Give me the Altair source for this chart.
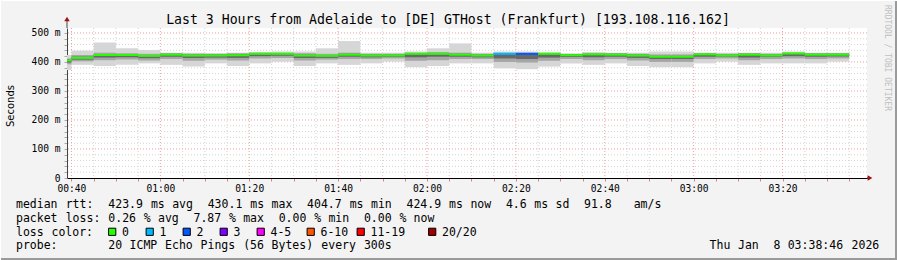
import re
import altair as alt
import pandas as pd

# ---------------- data ----------------
title_text = "Last 3 Hours from Adelaide to [DE] GTHost (Frankfurt) [193.108.116.162]"

# 5-minute bins, start minute after midnight (00:35 ... 03:30)
bin_start = [35 + 5 * i for i in range(36)]
bin_end = [s + 5 for s in bin_start]

median_ms = [405, 414, 424, 424, 421, 425, 422, 422, 423, 428, 428, 422,
             421, 425, 422, 422, 428, 428, 425, 422, 428, 428, 428, 423,
             426, 425, 422, 418, 418, 426, 422, 425, 422, 429, 425, 425]
smoke_hi = [424, 439, 467, 447, 441, 432, 432, 430, 432, 434, 436, 436,
            447, 472, 432, 432, 436, 447, 464, 432, 436, 436, 432, 428,
            434, 432, 432, 436, 436, 432, 432, 432, 432, 436, 432, 432]
smoke_lo = [372, 390, 386, 390, 395, 390, 384, 395, 386, 395, 401, 386,
            395, 390, 395, 401, 382, 386, 395, 395, 378, 375, 384, 395,
            390, 395, 386, 382, 382, 395, 401, 390, 395, 395, 395, 401]
mid_hi = [412, 424, 432, 430, 428, 430, 428, 428, 430, 432, 432, 430,
          428, 432, 428, 428, 432, 434, 432, 428, 432, 432, 432, 428,
          430, 430, 428, 426, 426, 430, 428, 430, 428, 432, 430, 430]
mid_lo = [392, 402, 406, 408, 405, 410, 404, 408, 405, 412, 414, 405,
          408, 410, 410, 412, 404, 406, 410, 410, 400, 398, 404, 410,
          406, 410, 405, 400, 400, 410, 412, 406, 410, 412, 410, 412]
dark_hi = [408, 418, 427, 426, 424, 428, 425, 425, 426, 430, 430, 425,
           424, 428, 425, 425, 430, 430, 428, 425, 430, 430, 430, 426,
           428, 428, 425, 421, 421, 428, 425, 428, 425, 431, 428, 428]
dark_lo = [398, 408, 415, 416, 413, 418, 414, 415, 414, 420, 421, 414,
           414, 418, 416, 417, 416, 418, 418, 416, 412, 410, 415, 417,
           416, 418, 414, 410, 410, 418, 418, 415, 417, 420, 418, 419]
bin_loss = ['0', '0', '0', '0', '0', '0', '0', '0', '0', '0', '0', '0',
            '0', '0', '0', '0', '0', '0', '0', '0', '1', '2', '0', '0',
            '0', '0', '0', '0', '0', '0', '0', '0', '0', '0', '0', '0']

loss_labels = ['0', '1', '2', '3', '4-5', '6-10', '11-19', '20/20']
loss_colors = ['#26ff00', '#00b8ff', '#0059ff', '#7e00ff', '#ff00ff',
               '#ff5500', '#ff0000', '#a00000']

x_tick_minutes = [40, 60, 80, 100, 120, 140, 160, 180, 200]
x_tick_labels = ['00:40', '01:00', '01:20', '01:40', '02:00', '02:20',
                 '02:40', '03:00', '03:20']
y_tick_values = [0, 100, 200, 300, 400, 500]
y_tick_labels = ['0', '100 m', '200 m', '300 m', '400 m', '500 m']

legend_lines = [
    "median rtt:  423.9 ms avg  430.1 ms max  404.7 ms min  424.9 ms now  4.6 ms sd  91.8   am/s",
    "packet loss: 0.26 % avg  7.87 % max  0.00 % min  0.00 % now",
    "loss color:",
    "probe:       20 ICMP Echo Pings (56 Bytes) every 300s",
]
date_text = "Thu Jan  8 03:38:46 2026"
watermark = "RRDTOOL / TOBI OETIKER"
y_title = "Seconds"

# ---------------- layout ----------------
W, H = 800, 150
LEFT, TOP = 67, 28
X_DOMAIN = [39, 219]
Y_DOMAIN = [0, 517]
MONO = "DejaVu Sans Mono"
CHAR = 7.1
xs = alt.Scale(domain=X_DOMAIN, nice=False, zero=False)
ys = alt.Scale(domain=Y_DOMAIN, nice=False)

x_label_expr = " : ".join(
    f"datum.value == {m} ? '{l}'" for m, l in zip(x_tick_minutes, x_tick_labels)) + " : ''"
y_label_expr = " : ".join(
    f"datum.value == {v} ? '{l}'" for v, l in zip(y_tick_values, y_tick_labels)) + " : ''"

X_AXIS = alt.Axis(
    values=list(range(40, 219, 5)), labelExpr=x_label_expr, title=None, grid=False,
    tickSize=3, tickColor='#e08080', domainColor='#000000', domainWidth=1,
    labelFont=MONO, labelFontSize=9.6, labelColor='#000000', labelPadding=2,
    labelFlush=False, labelOverlap=False, orient='bottom')
Y_AXIS = alt.Axis(
    values=list(range(0, 517, 20)), labelExpr=y_label_expr, title=None, grid=False,
    tickSize=3, tickColor='#aaaaaa', domainColor='#444444', domainWidth=1,
    labelFont=MONO, labelFontSize=9.6, labelColor='#000000', labelPadding=4,
    labelOverlap=False, labelFlush=False, orient='left')

bins = pd.DataFrame({
    'start': bin_start, 'end': bin_end, 'median': median_ms,
    'slo': smoke_lo, 'shi': smoke_hi, 'mlo': mid_lo, 'mhi': mid_hi,
    'dlo': dark_lo, 'dhi': dark_hi, 'loss': bin_loss,
})

grid_x = pd.DataFrame({'m': list(range(40, 219, 5))})
grid_x['major'] = grid_x['m'].isin(x_tick_minutes)
grid_y = pd.DataFrame({'v': list(range(20, 517, 20))})
grid_y['major'] = grid_y['v'] % 100 == 0


def band(lo, hi, color):
    return alt.Chart(bins).mark_rect(color=color, clip=True).encode(
        x=alt.X('start:Q', scale=xs, axis=X_AXIS), x2='end:Q',
        y=alt.Y(f'{lo}:Q', scale=ys, axis=Y_AXIS), y2=f'{hi}:Q')


vminor = alt.Chart(grid_x[~grid_x['major']]).mark_rule(
    color='#d4d4d4', strokeDash=[1, 2], strokeWidth=1).encode(
    x=alt.X('m:Q', scale=xs, axis=X_AXIS))
vmajor = alt.Chart(grid_x[grid_x['major']]).mark_rule(
    color='#f0a0a0', strokeDash=[1, 2], strokeWidth=1).encode(
    x=alt.X('m:Q', scale=xs, axis=X_AXIS))
hminor = alt.Chart(grid_y[~grid_y['major']]).mark_rule(
    color='#d4d4d4', strokeDash=[1, 2], strokeWidth=1).encode(
    y=alt.Y('v:Q', scale=ys, axis=Y_AXIS))
hmajor = alt.Chart(grid_y[grid_y['major']]).mark_rule(
    color='#f0a0a0', strokeDash=[1, 2], strokeWidth=1).encode(
    y=alt.Y('v:Q', scale=ys, axis=Y_AXIS))

outer = band('slo', 'shi', '#d6d6d6')
mid = band('mlo', 'mhi', '#a6a6a6')
dark = band('dlo', 'dhi', '#686868')

median_line = alt.Chart(bins).mark_rule(strokeWidth=2, clip=True).encode(
    x=alt.X('start:Q', scale=xs, axis=X_AXIS), x2='end:Q',
    y=alt.Y('median:Q', scale=ys, axis=Y_AXIS),
    color=alt.Color('loss:N', scale=alt.Scale(domain=loss_labels, range=loss_colors), legend=None),
)


# ---------------- text & decorations ----------------
def pxy():
    return dict(x=alt.X('px:Q', scale=None, axis=None), y=alt.Y('py:Q', scale=None, axis=None))


def tchart(df, **kw):
    return alt.Chart(df).mark_text(font=MONO, color='#000000', **kw).encode(text='t:N', **pxy())


def words(line, x0, base):
    return [{'t': m.group(), 'px': x0 + CHAR * m.start() - LEFT, 'py': base - TOP}
            for m in re.finditer(r'\S+', line)]


title_df = pd.DataFrame({'t': [title_text], 'px': [448 - LEFT], 'py': [24 - TOP]})
title_layer = tchart(title_df, fontSize=13.2, align='center', baseline='alphabetic')

baselines = [208, 221.7, 235.5, 249]
rows = []
for li, line in enumerate(legend_lines):
    rows += words(line, 16, baselines[li])
rows += words(date_text, 880 - CHAR * len(date_text), 249)
legend_layer = tchart(pd.DataFrame(rows), fontSize=11.5, align='left', baseline='alphabetic')

box_x = [108, 145.5, 182.5, 219.5, 256.5, 306.5, 356.5, 428]
boxes = pd.DataFrame({'lab': loss_labels,
                      'px': [b + 4.2 - LEFT for b in box_x],
                      'py': [231.8 - TOP] * len(loss_labels)})
box_layer = alt.Chart(boxes).mark_point(shape='square', size=52, filled=True, opacity=1,
                                        stroke='#000000', strokeWidth=1).encode(
    fill=alt.Fill('lab:N', scale=alt.Scale(domain=loss_labels, range=loss_colors), legend=None),
    **pxy())
box_text = tchart(pd.DataFrame({'t': loss_labels, 'px': [b + 14 - LEFT for b in box_x],
                                'py': [235.5 - TOP] * len(loss_labels)}),
                  fontSize=11.5, align='left', baseline='alphabetic')

ytitle_layer = alt.Chart(pd.DataFrame({'t': [y_title], 'px': [11 - LEFT], 'py': [106 - TOP]})).mark_text(
    font="DejaVu Sans", fontSize=10, angle=270, align='center', baseline='middle',
    color='#000000').encode(text='t:N', **pxy())

wm_layer = alt.Chart(pd.DataFrame({'t': [watermark], 'px': [887 - LEFT], 'py': [5 - TOP]})).mark_text(
    font=MONO, fontSize=8, angle=90, align='left', baseline='middle',
    color='#c0c0c0').encode(text='t:N', **pxy())

one = pd.DataFrame({'a': [0]})
yext = alt.Chart(one).mark_rule(color='#444444', strokeWidth=1).encode(
    x=alt.value(0), y=alt.value(-8), y2=alt.value(0))
xext = alt.Chart(one).mark_rule(color='#000000', strokeWidth=1).encode(
    x=alt.value(W), x2=alt.value(W + 2), y=alt.value(H))
arrow_up = alt.Chart(one).mark_point(
    shape='triangle-up', filled=True, size=30, color='#a01010', opacity=1).encode(
    x=alt.value(0), y=alt.value(-9))
arrow_right = alt.Chart(one).mark_point(
    shape='triangle-right', filled=True, size=30, color='#a01010', opacity=1).encode(
    x=alt.value(W + 3), y=alt.value(H))

frame_b = alt.Chart(one).mark_rule(color='#9a9a9a', strokeWidth=2).encode(
    x=alt.value(-LEFT), x2=alt.value(897 - LEFT), y=alt.value(259 - TOP))
frame_r = alt.Chart(one).mark_rule(color='#9a9a9a', strokeWidth=2).encode(
    x=alt.value(896 - LEFT), y=alt.value(-TOP), y2=alt.value(260 - TOP))
frame_t = alt.Chart(one).mark_rule(color='#ffffff', strokeWidth=1).encode(
    x=alt.value(-LEFT), x2=alt.value(897 - LEFT), y=alt.value(0.5 - TOP))
frame_l = alt.Chart(one).mark_rule(color='#ffffff', strokeWidth=1).encode(
    x=alt.value(0.5 - LEFT), y=alt.value(-TOP), y2=alt.value(260 - TOP))

chart = alt.layer(
    vminor, hminor, vmajor, hmajor,
    outer, mid, dark, median_line,
    yext, xext, arrow_up, arrow_right,
    title_layer, legend_layer, box_layer, box_text, ytitle_layer, wm_layer,
    frame_b, frame_r, frame_t, frame_l,
).resolve_scale(color='independent', fill='independent').properties(
    width=W, height=H,
    autosize=alt.AutoSizeParams(type='none'),
    padding={'left': LEFT, 'top': TOP, 'right': 897 - LEFT - W, 'bottom': 260 - TOP - H},
    background='#f3f3f3',
).configure_view(fill='#ffffff', stroke=None)

chart.save("out.html", embed_options={"renderer": "svg", "actions": False})
